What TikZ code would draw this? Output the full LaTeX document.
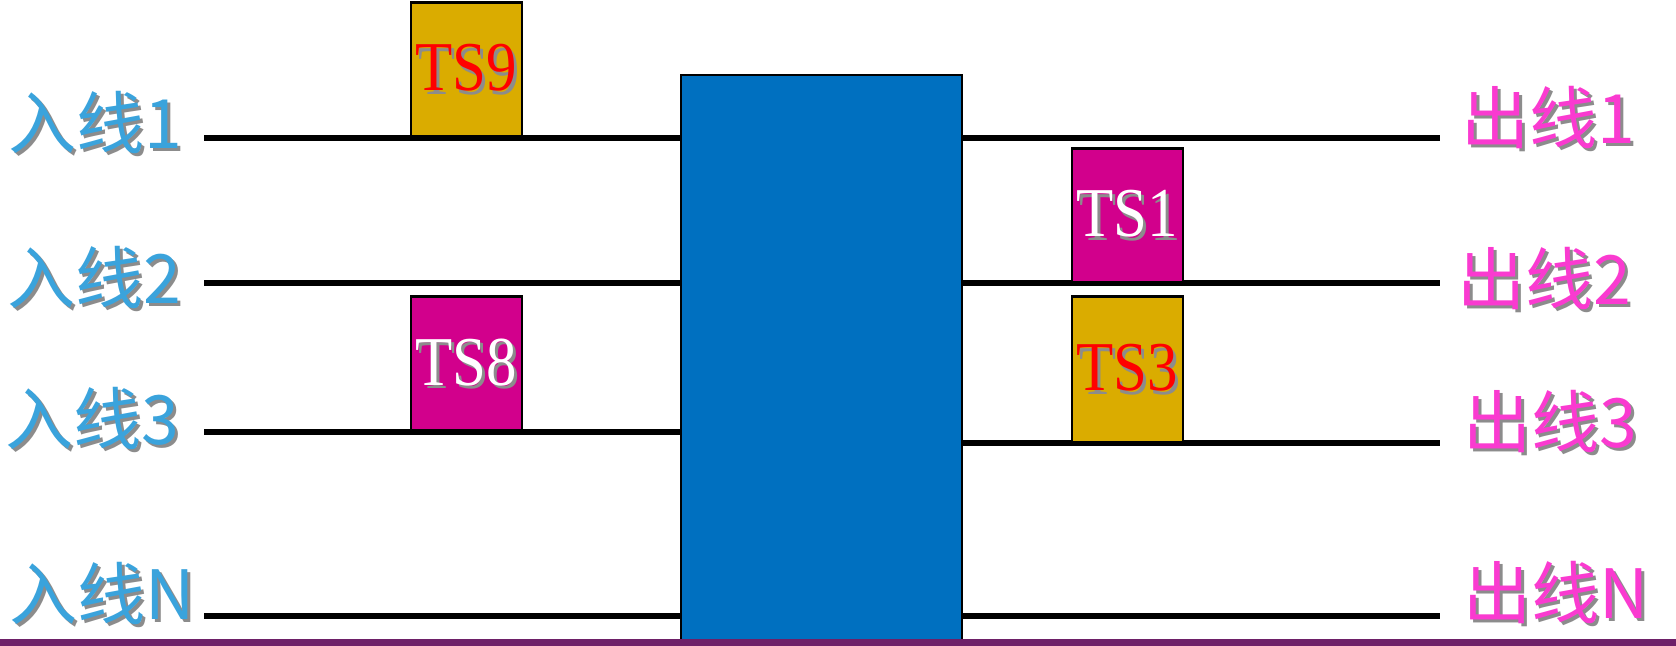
\documentclass[tikz,border=0pt]{standalone}
\usepackage{fontspec}
\setmainfont{Liberation Serif}
\newfontfamily\cjk{Noto Sans CJK SC}
\usepackage{graphicx}

\definecolor{inblue}{RGB}{58,163,220}
\definecolor{outpink}{RGB}{250,58,208}
\definecolor{swblue}{RGB}{0,112,192}
\definecolor{tsgold}{RGB}{218,172,0}
\definecolor{tsmag}{RGB}{210,0,140}
\definecolor{barpurple}{RGB}{110,32,104}

% Text mit Schatten
\newcommand{\shadowtxt}[2]{\makebox[0pt][l]{\hspace{1.6pt}\raisebox{-1.6pt}{\color{black!45}#2}}{\color{#1}#2}}

\begin{document}
\begin{tikzpicture}[x=0.5pt,y=-0.5pt,
	wire/.style={line width=2.75pt},
	inlabel/.style={anchor=west,inner sep=0pt,font=\cjk\fontsize{34}{34}\selectfont},
	slot/.style={draw=black,line width=1.3pt,anchor=south,minimum width=55.5pt,minimum height=67pt,inner sep=0pt,
		font=\fontsize{35}{35}\selectfont},
	switchbox/.style={draw=black,line width=1pt,fill=swblue,minimum width=140.5pt,minimum height=283.5pt,inner sep=0pt}]

	\useasboundingbox (0,0) rectangle (1676,646);

	% Koppelfeld
	\node[switchbox] (sw) at (821.5,358.5) {};

	% Eingangsleitungen
	\coordinate (in1) at (204,138);
	\coordinate (in2) at (204,283);
	\coordinate (in3) at (204,432);
	\coordinate (inN) at (204,616);

	% Ausgangsleitungen
	\coordinate (out1) at (1440,138);
	\coordinate (out2) at (1440,283);
	\coordinate (out3) at (1440,443);
	\coordinate (outN) at (1440,616);

	\draw[wire] (in1) -- (in1 -| sw.west);
	\draw[wire] (in2) -- (in2 -| sw.west);
	\draw[wire] (in3) -- (in3 -| sw.west);
	\draw[wire] (inN) -- (inN -| sw.west);

	\draw[wire] (out1 -| sw.east) -- (out1);
	\draw[wire] (out2 -| sw.east) -- (out2);
	\draw[wire] (out3 -| sw.east) -- (out3);
	\draw[wire] (outN -| sw.east) -- (outN);

	% Zeitschlitze
	\node[slot,fill=tsgold] (ts9) at (466.5,138) {\scalebox{0.87}[1]{\shadowtxt{red}{TS9}}};
	\node[slot,fill=tsmag] (ts8) at (466.5,432) {\scalebox{0.87}[1]{\shadowtxt{white}{TS8}}};
	\node[slot,fill=tsmag] (ts1) at (1127.5,284) {\scalebox{0.87}[1]{\shadowtxt{white}{TS1}}};
	\node[slot,fill=tsgold,minimum height=73pt] (ts3) at (1127.5,444) {\scalebox{0.87}[1]{\shadowtxt{red}{TS3}}};

	% Beschriftungen
	\node[inlabel] (lin1) at (8,124) {\shadowtxt{inblue}{入线1}};
	\node[inlabel] (lin2) at (7,279) {\shadowtxt{inblue}{入线2}};
	\node[inlabel] (lin3) at (5,420) {\shadowtxt{inblue}{入线3}};
	\node[inlabel] (linN) at (9,595) {\shadowtxt{inblue}{入线N}};

	\node[inlabel] (lout1) at (1461,119) {\shadowtxt{outpink}{出线1}};
	\node[inlabel] (lout2) at (1457,280) {\shadowtxt{outpink}{出线2}};
	\node[inlabel] (lout3) at (1463,423) {\shadowtxt{outpink}{出线3}};
	\node[inlabel] (loutN) at (1463,594) {\shadowtxt{outpink}{出线N}};

	% Leiste unten
	\fill[barpurple] (0,639) rectangle (1676,646);

\end{tikzpicture}
\end{document}
